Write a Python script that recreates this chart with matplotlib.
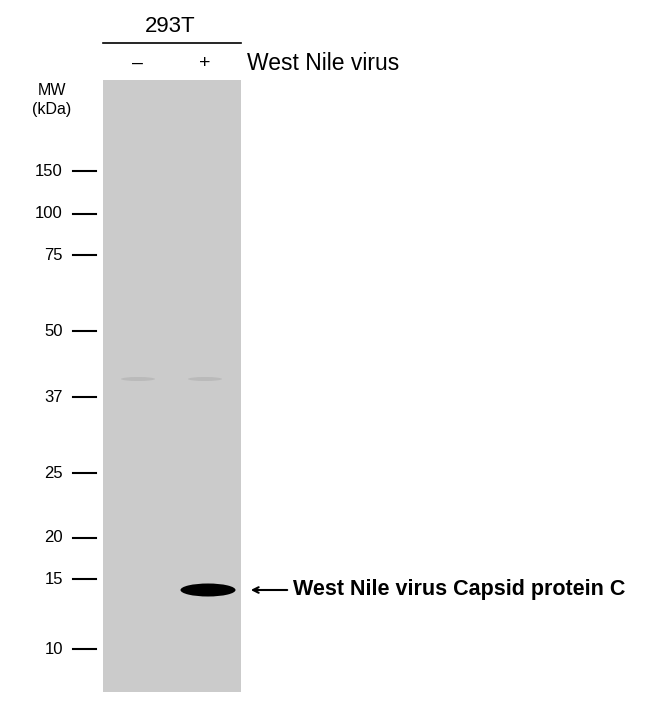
import matplotlib
matplotlib.use("Agg")
import matplotlib.pyplot as plt
from matplotlib.patches import Rectangle, Ellipse

mw_labels = ["150", "100", "75", "50", "37", "25", "20", "15", "10"]
mw_pos = [171, 214, 255, 331, 397, 473, 538, 579, 649]
lane_labels = ["–", "+"]
lane_x = [138, 205]

fig = plt.figure(figsize=(6.5, 7.03), dpi=100)
ax = fig.add_axes([0, 0, 1, 1])
ax.set_xlim(0, 650)
ax.set_ylim(703, 0)
ax.axis("off")

ax.add_patch(Rectangle((103, 80), 138, 612, color="#cbcbcb", lw=0))
for x in lane_x:
    ax.add_patch(Ellipse((x, 379), 34, 4, color="#bababa", lw=0))
ax.add_patch(Ellipse((lane_x[1] + 3, 590), 55, 13, color="black", lw=0))

ax.text(170, 27, "293T", ha="center", va="center", fontsize=16, family="Liberation Sans")
ax.plot([103, 241], [43, 43], color="black", lw=1.2)
for lbl, x in zip(lane_labels, lane_x):
    ax.text(x, 63, lbl, ha="center", va="center", fontsize=14, family="Liberation Sans")
ax.text(247, 63, "West Nile virus", ha="left", va="center", fontsize=16.5, family="Liberation Sans")
ax.text(52, 100, "MW\n(kDa)", ha="center", va="center", fontsize=11.5, family="Liberation Sans", linespacing=1.3)

for lbl, y in zip(mw_labels, mw_pos):
    ax.text(63, y, lbl, ha="right", va="center", fontsize=12, family="Liberation Sans")
    ax.plot([73, 96], [y, y], color="black", lw=1.5)

ax.annotate("", xy=(248, 590), xytext=(290, 590),
            arrowprops=dict(arrowstyle="->", color="black", lw=1.5))
ax.text(293, 590, "West Nile virus Capsid protein C", ha="left", va="center",
        fontsize=15.5, fontweight="bold", family="Liberation Sans")

fig.savefig("out.png", dpi=100, facecolor="white")
